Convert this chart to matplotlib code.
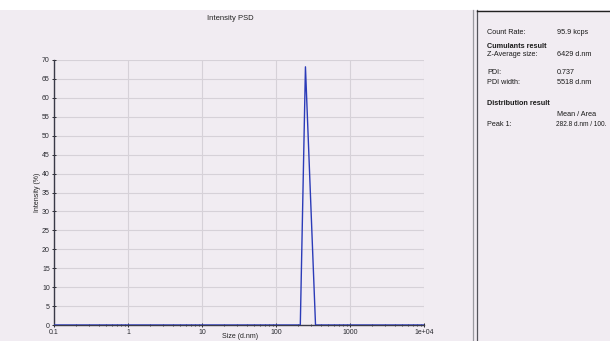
import matplotlib
matplotlib.use("Agg")
import matplotlib.pyplot as plt
from matplotlib.lines import Line2D

plt.rcParams['font.family'] = ['Liberation Sans Narrow', 'Liberation Sans', 'DejaVu Sans']

# Intensity size distribution (d.nm vs %)
size_nm = [0.1, 100, 213, 250, 342, 1000, 10000]
intensity_pct = [0, 0, 0, 68.2, 0, 0, 0]

x_ticks = [0.1, 1, 10, 100, 1000, 10000]
x_tick_labels = ["0.1", "1", "10", "100", "1000", "1e+04"]
y_ticks = list(range(0, 75, 5))

results_labels = ["Count Rate:", "Z-Average size:", "PDI:", "PDI width:", "Peak 1:"]
results_values = ["95.9 kcps", "6429 d.nm", "0.737", "5518 d.nm", "282.8 d.nm / 100."]

bg = "#f1ecf2"
fig = plt.figure(figsize=(6.1, 3.41), dpi=100)
fig.patch.set_facecolor(bg)

# white strip at the top
fig.add_artist(plt.Rectangle((0, 1 - 10 / 341), 1, 10 / 341, transform=fig.transFigure,
                             facecolor="white", edgecolor="none"))

ax = fig.add_axes([54 / 610, 1 - 325 / 341, 370 / 610, 265 / 341])
ax.set_facecolor(bg)
ax.plot(size_nm, intensity_pct, color="#2b3bb8", lw=1.0, zorder=3)
ax.set_xscale("log")
ax.set_xlim(0.1, 10000)
ax.set_ylim(0, 70)
ax.set_xticks(x_ticks)
ax.set_xticklabels(x_tick_labels)
ax.set_yticks(y_ticks)
ax.grid(True, which="major", color="#d6d1d8", lw=0.8)
for s in ["top", "right"]:
    ax.spines[s].set_visible(False)
for s in ["left", "bottom"]:
    ax.spines[s].set_color("#3a3a48")
    ax.spines[s].set_linewidth(1.0)
ax.tick_params(axis="both", which="major", labelsize=5, length=3, width=0.7,
               direction="inout", colors="#2a2a30", pad=1.5)
ax.tick_params(axis="x", which="minor", length=2, width=0.6, direction="inout",
               colors="#2a2a30")
ax.set_ylabel("Intensity (%)", fontsize=5, labelpad=1, color="#222")
fig.text(230 / 610, 1 - 18 / 341, "Intensity PSD", fontsize=5.5, ha="center", va="center",
         color="#222")
fig.text(240 / 610, 1 - 336 / 341, "Size (d.nm)", fontsize=5, ha="center", va="center",
         color="#222")

# side panel with results
for xp, c in [(473, "#9a9aa0"), (477, "#55555c")]:
    fig.add_artist(Line2D([xp / 610, xp / 610], [0, 1 - 10 / 341], transform=fig.transFigure,
                          color=c, lw=0.9))
fig.add_artist(Line2D([477 / 610, 1], [1 - 11 / 341, 1 - 11 / 341], transform=fig.transFigure,
                      color="#222", lw=1.0))


def t(x, y, s, size=5.2, **kw):
    fig.text(x / 610, 1 - y / 341, s, fontsize=size, va="center", ha="left", color="#1a1a1a", **kw)


t(487, 33, results_labels[0]); t(557, 33, results_values[0])
t(487, 46, "Cumulants result", fontweight="bold")
t(487, 55, results_labels[1]); t(557, 55, results_values[1])
t(487, 73, results_labels[2]); t(557, 73, results_values[2])
t(487, 82, results_labels[3]); t(557, 82, results_values[3])
t(487, 104, "Distribution result", fontweight="bold")
t(557, 115, "Mean / Area")
t(487, 124, results_labels[4]); t(556, 124, results_values[4], size=4.7)

fig.savefig("out.png", dpi=100, facecolor=fig.get_facecolor())
